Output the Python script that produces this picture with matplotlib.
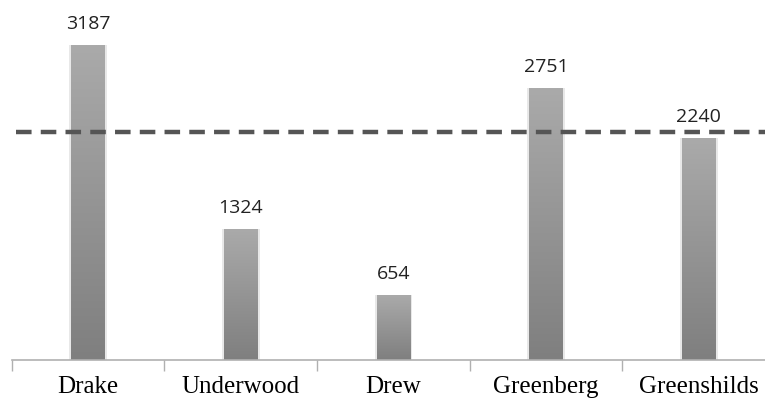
import matplotlib.pyplot as plt
import matplotlib.colors as mcolors
import numpy as np

names = ["Drake", "Underwood", "Drew", "Greenberg", "Greenshilds"]
values = [3187, 1324, 654, 2751, 2240]
target = 2310

fig = plt.figure(figsize=(7.65, 3.98), dpi=100)
ax = fig.add_axes([0.0153, 0.0967, 0.998, 0.9033])
ax.set_xlim(-0.5, 4.5)
ax.set_ylim(0, 3643)

grad = mcolors.LinearSegmentedColormap.from_list("g", ["#7f7f7f", "#aaaaaa"])
x = np.arange(len(names))
bw = 0.22
bars = ax.bar(x, values, width=bw, color="none", edgecolor="none", zorder=2)
g = np.linspace(0, 1, 256).reshape(-1, 1)
for b in bars:
    x0, y0 = b.get_x(), b.get_y()
    w, h = b.get_width(), b.get_height()
    # soft shadow around the bar
    ax.bar(x0 + w / 2, h, width=w * 1.12, color="#e8e8e8", zorder=1)
    im = ax.imshow(g, cmap=grad, origin="lower", aspect="auto",
                   extent=[x0, x0 + w, y0, y0 + h], zorder=2)
    im.set_clip_path(b)

for xi, v in zip(x, values):
    ax.text(xi, v + 165, str(v), ha="center", va="baseline",
            fontsize=14, family="Open Sans", color="#222222")

ax.axhline(target, xmin=0.005, color="#555555", lw=3.2,
           dashes=(3.5, 2.07), zorder=3)

for s in ["top", "right", "left"]:
    ax.spines[s].set_visible(False)
ax.spines["bottom"].set_color("#b0b0b0")
ax.spines["bottom"].set_linewidth(1.2)
ax.set_yticks([])
ax.set_xticks(np.arange(-0.5, 5, 1), minor=False)
ax.set_xticklabels([])
ax.tick_params(axis="x", length=8, color="#b0b0b0", width=1)
ax.set_xticks(x, minor=True)
ax.set_xticklabels(names, minor=True, family="Liberation Serif", fontsize=18)
ax.tick_params(axis="x", which="minor", length=0, pad=12)

fig.savefig("out.png", dpi=100)
